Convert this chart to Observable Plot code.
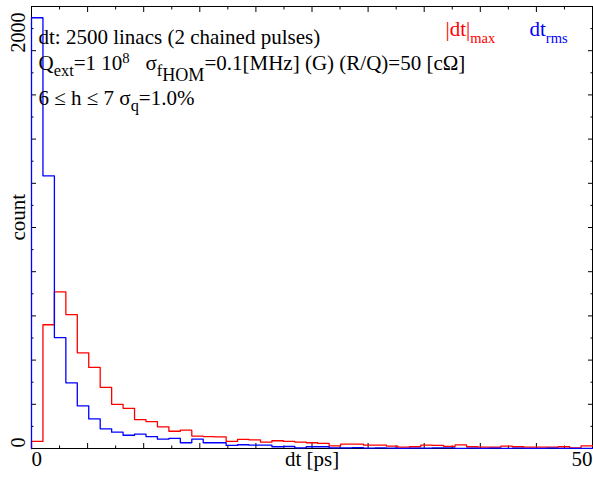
<!DOCTYPE html>
<html><head><meta charset="utf-8">
<script src="https://cdn.jsdelivr.net/npm/d3@7"></script>
<script src="https://cdn.jsdelivr.net/npm/@observablehq/plot@0.6"></script>
<style>body{margin:0;background:#fff} svg{display:block} text{white-space:pre}</style>
</head><body><div id="chart"></div>
<script>
// ---- data ----
const xMax = 50;
const yMax = 2000;
const nBins = 49;
const redCounts = [32, 560, 709, 606, 433, 367, 277, 200, 182, 131, 122, 98, 78, 83, 56, 54, 53, 32, 41, 39,
  29, 35, 32, 29, 26, 23, 12, 20, 20, 15, 15, 11, 6, 8, 15, 14, 10, 16, 8, 6, 6, 11, 8, 6, 6, 6, 8, 3, 12];
const blueCounts = [1949, 1234, 502, 297, 193, 134, 89, 74, 60, 65, 54, 42, 46, 26, 42, 26, 26, 14, 17, 15,
  15, 8, 9, 3, 8, 8, 3, 3, 4, 2, 3, 2, 1, 2, 2, 3, 3, 1, 2, 1, 2, 1, 2, 1, 1, 2, 1, 1, 1];
const xMajorTicks = [0, 5, 10, 15, 20, 25, 30, 35, 40, 45, 50];
const xMinorTicks = [2.5, 7.5, 12.5, 17.5, 22.5, 27.5, 32.5, 37.5, 42.5, 47.5];
const yMajorTicks = [0, 200, 400, 600, 800, 1000, 1200, 1400, 1600, 1800, 2000];
const yMinorTicks = [100, 300, 500, 700, 900, 1100, 1300, 1500, 1700, 1900];
const xTickLabels = ["0", "50"];
const xTickValues = [0, 50];
const yTickLabels = ["0", "2000"];
const yTickValues = [0, 2000];
const xTitle = "dt [ps]";
const yTitle = "count";
const infoLines = [
  "dt: 2500 linacs (2 chained pulses)",
  "Q_{ext}=1 10^{8}   σ_{f_{HOM}}=0.1[MHz] (G) (R/Q)=50 [cΩ]",
  "6 ≤ h ≤ 7 σ_{q}=1.0%"
];
const legendLabels = ["|dt|_{max}", "dt_{rms}"];
const seriesColors = ["#ff0000", "#0000ff"];

// ---- build step tables ----
const binW = xMax / nBins;
function steps(counts) {
  const pts = [{x: 0, y: 0}];
  counts.forEach((c, i) => { pts.push({x: i * binW, y: c}); pts.push({x: (i + 1) * binW, y: c}); });
  return pts;
}
const redSteps = steps(redCounts);
const blueSteps = steps(blueCounts);

const FS = 21;
const font = "'Liberation Serif', 'Times New Roman', serif";

const tickMarks = [];
for (const anchor of ["bottom", "top"]) {
  tickMarks.push(Plot.axisX(xMajorTicks, {anchor, tickSize: -5, fill: "none", label: null}));
  tickMarks.push(Plot.axisX(xMinorTicks, {anchor, tickSize: -2.5, fill: "none", label: null}));
}
for (const anchor of ["left", "right"]) {
  tickMarks.push(Plot.axisY(yMajorTicks, {anchor, tickSize: -5, fill: "none", label: null}));
  tickMarks.push(Plot.axisY(yMinorTicks, {anchor, tickSize: -2.5, fill: "none", label: null}));
}

const chart = Plot.plot({
  width: 593, height: 479,
  marginLeft: 31, marginRight: 1, marginTop: 6, marginBottom: 31,
  x: {domain: [0, xMax], axis: null},
  y: {domain: [0, yMax], axis: null},
  style: {fontFamily: font, fontSize: FS + "px", background: "white", color: "black", overflow: "visible"},
  marks: [
    Plot.frame({stroke: "black", strokeWidth: 1}),
    ...tickMarks,
    Plot.line(redSteps, {x: "x", y: "y", stroke: seriesColors[0], strokeWidth: 1.3}),
    Plot.line(blueSteps, {x: "x", y: "y", stroke: seriesColors[1], strokeWidth: 1.3}),
    // tick labels
    Plot.text([0], {x: i => xTickValues[i], text: i => xTickLabels[i], frameAnchor: "bottom", textAnchor: "start", dy: 17.3, fontSize: FS}),
    Plot.text([1], {x: i => xTickValues[i], text: i => xTickLabels[i], frameAnchor: "bottom", textAnchor: "end", dy: 17.3, fontSize: FS}),
    Plot.text([0], {y: i => yTickValues[i], text: i => yTickLabels[i], frameAnchor: "left", textAnchor: "start", rotate: -90, dx: -13.4, dy: -1, fontSize: 20}),
    Plot.text([1], {y: i => yTickValues[i], text: i => yTickLabels[i], frameAnchor: "left", textAnchor: "end", rotate: -90, dx: -13.4, dy: 6, fontSize: 20}),
    Plot.text([xTitle], {frameAnchor: "bottom", dy: 17.3, fontSize: FS}),
    Plot.text([yTitle], {frameAnchor: "left", rotate: -90, dx: -13.4, dy: 13, fontSize: FS}),
    // info lines
    Plot.text([infoLines[0]], {frameAnchor: "top-left", textAnchor: "start", dx: 7, dy: 22.3, fontSize: FS}),
    Plot.text([infoLines[1]], {frameAnchor: "top-left", textAnchor: "start", dx: 7, dy: 48.5, fontSize: FS}),
    Plot.text([infoLines[2]], {frameAnchor: "top-left", textAnchor: "start", dx: 7, dy: 83.3, fontSize: FS}),
    // legend
    Plot.text([legendLabels[0]], {frameAnchor: "top-left", textAnchor: "start", dx: 414, dy: 15, fontSize: FS, fill: seriesColors[0]}),
    Plot.text([legendLabels[1]], {frameAnchor: "top-left", textAnchor: "start", dx: 498, dy: 15, fontSize: FS, fill: seriesColors[1]})
  ]
});

// ---- rich text (sub/superscripts) ----
function parseRich(s) {
  const out = []; let i = 0;
  function parse(stack) {
    let buf = "";
    while (i < s.length) {
      const c = s[i];
      if ((c === "_" || c === "^") && s[i + 1] === "{") {
        if (buf) { out.push({text: buf, stack}); buf = ""; }
        i += 2;
        parse([...stack, c === "_" ? "sub" : "sup"]);
      } else if (c === "}") { i++; break; }
      else { buf += c; i++; }
    }
    if (buf) out.push({text: buf, stack});
  }
  parse([]);
  return out;
}
d3.select(chart).selectAll("text").each(function () {
  const s = this.textContent;
  if (!/[_^]\{/.test(s)) return;
  const isLegend = legendLabels.includes(s);
  const segs = parseRich(s);
  const el = d3.select(this);
  el.text(null);
  let prev = 0;
  for (const seg of segs) {
    let off = 0;
    seg.stack.forEach((k, lvl) => { off += k === "sub" ? (lvl === 0 ? 0.3 : 0.25) * FS : -0.35 * FS; });
    const n = seg.stack.length;
    const isSup = seg.stack.includes("sup");
    const size = n === 0 ? FS : isLegend ? 0.69 * FS : isSup ? 0.7 * FS : n === 1 ? 0.78 * FS : 0.86 * FS;
    el.append("tspan").attr("dy", (off - prev).toFixed(2)).attr("font-size", size.toFixed(1)).text(seg.text);
    prev = off;
  }
});
document.getElementById("chart").appendChild(chart);
</script>
</body></html>
